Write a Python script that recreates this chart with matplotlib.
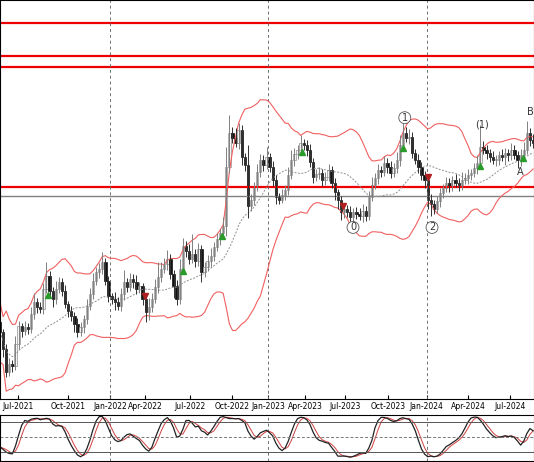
import matplotlib
matplotlib.use('Agg')
import matplotlib.pyplot as plt
import numpy as np
import pandas as pd

# weekly closes (chart price units)
closes = [
    67, 50, 27, 35, 33, 55, 73, 68, 72, 70,
    85, 97, 92, 90, 110, 123, 108, 100, 110, 117,
    108, 95, 88, 83, 75, 67, 72, 80, 93, 105,
    118, 127, 130, 137, 118, 103, 100, 97, 93, 105,
    117, 112, 120, 117, 110, 113, 100, 87, 92, 100,
    112, 122, 130, 135, 140, 125, 113, 100, 130, 153,
    148, 140, 145, 138, 150, 127, 132, 138, 143, 152,
    160, 166, 173, 233, 267, 262, 257, 270, 243, 235,
    193, 200, 213, 228, 240, 235, 243, 233, 220, 203,
    200, 205, 210, 225, 240, 246, 250, 257, 255, 250,
    238, 223, 226, 227, 220, 223, 230, 217, 208, 200,
    187, 190, 187, 182, 187, 185, 183, 188, 183, 203,
    215, 222, 230, 228, 237, 233, 227, 232, 240, 255,
    267, 262, 263, 247, 240, 233, 225, 220, 200, 195,
    190, 198, 207, 212, 217, 214, 220, 217, 215, 220,
    222, 225, 227, 232, 237, 253, 250, 247, 243, 240,
    240, 245, 243, 247, 245, 250, 245, 240, 245, 250,
    267, 260, 257,
]
up_wick = [
    4, 3, 5, 6, 4, 8, 5, 3, 6, 4,
    7, 9, 4, 5, 6, 14, 5, 4, 8, 5,
    4, 6, 3, 5, 4, 6, 5, 4, 7, 6,
    8, 5, 6, 10, 4, 5, 3, 7, 5, 6,
    12, 4, 6, 5, 7, 4, 3, 5, 9, 6,
    8, 15, 7, 6, 9, 5, 4, 6, 10, 8,
    5, 7, 20, 5, 6, 4, 5, 6, 8, 5,
    6, 4, 9, 20, 18, 6, 10, 7, 5, 4,
    20, 6, 5, 8, 6, 5, 10, 4, 6, 5,
    4, 6, 5, 8, 10, 6, 5, 8, 4, 5,
    6, 4, 5, 6, 4, 5, 6, 4, 5, 3,
    4, 5, 4, 6, 4, 5, 6, 7, 5, 6,
    8, 5, 6, 4, 7, 5, 6, 5, 8, 10,
    12, 6, 8, 5, 4, 6, 5, 4, 5, 6,
    4, 6, 5, 4, 6, 5, 4, 6, 5, 8,
    5, 6, 4, 5, 8, 22, 6, 5, 4, 6,
    5, 4, 6, 5, 4, 7, 5, 4, 6, 8,
    12, 5, 6,
]
down_wick = [
    6, 8, 5, 4, 6, 4, 5, 6, 4, 5,
    4, 5, 6, 4, 5, 4, 6, 8, 5, 4,
    5, 4, 6, 5, 8, 5, 4, 6, 5, 4,
    5, 4, 6, 5, 4, 6, 5, 8, 4, 5,
    6, 5, 4, 6, 5, 4, 6, 10, 8, 5,
    4, 6, 5, 4, 6, 5, 12, 6, 5, 4,
    6, 5, 4, 6, 5, 10, 5, 4, 6, 5,
    4, 6, 5, 10, 6, 5, 4, 6, 8, 6,
    12, 5, 6, 4, 5, 6, 4, 5, 6, 8,
    5, 4, 6, 5, 4, 6, 5, 4, 5, 6,
    5, 6, 4, 5, 6, 5, 4, 5, 8, 10,
    8, 6, 5, 4, 8, 5, 4, 6, 5, 4,
    5, 4, 6, 5, 4, 6, 5, 4, 5, 6,
    5, 4, 6, 5, 4, 6, 5, 8, 10, 12,
    5, 4, 6, 5, 4, 6, 5, 4, 6, 5,
    4, 6, 5, 4, 6, 5, 4, 6, 5, 4,
    6, 5, 4, 8, 6, 5, 4, 8, 6, 5,
    4, 6, 5,
]

tick_labels = ['Jul-2021', 'Oct-2021', 'Jan-2022', 'Apr-2022', 'Jul-2022', 'Oct-2022',
               'Jan-2023', 'Apr-2023', 'Jul-2023', 'Oct-2023', 'Jan-2024', 'Apr-2024', 'Jul-2024']
tick_weeks = [5.8, 21.9, 35.5, 46.8, 61.3, 74.8, 86.5, 98.4, 111.3, 125.2, 137.7, 151.0, 164.5]
year_weeks = [35.5, 86.5, 137.7]

levels_red = [377, 344, 333, 213]
level_gray = 204

green_arrows = [15.5, 59, 71.6, 97.4, 130, 155, 168.7]
red_marks = [46.8, 110.6, 138]
wave_labels = [('0', 113.9, 172, True), ('1', 130.6, 282, True), ('2', 139.4, 172, True),
               ('(1)', 155.5, 275, False), ('A', 167.7, 228, False), ('B', 171.0, 288, False)]

c = np.array(closes, float)
o = np.r_[c[0] + 10, c[:-1]]
h = np.maximum(o, c) + np.array(up_wick)
l = np.minimum(o, c) - np.array(down_wick)
x = np.arange(len(c))

s = pd.Series(c)
mid = s.rolling(20, min_periods=1).mean()
sd = s.rolling(20, min_periods=2).std().fillna(15)
upper, lower = mid + 2 * sd, mid - 2 * sd

hh = pd.Series(h).rolling(14, min_periods=1).max()
ll = pd.Series(l).rolling(14, min_periods=1).min()
k = (100 * (s - ll) / (hh - ll)).rolling(3, min_periods=1).mean()
d = k.rolling(3, min_periods=1).mean()

W, H = 534, 462
fig = plt.figure(figsize=(W / 100, H / 100), dpi=100)
ax = fig.add_axes([0, 1 - 399 / H, 1, 399 / H])
ax2 = fig.add_axes([0, 1 / H, 1, 46 / H])

for y in levels_red:
    ax.axhline(y, color='#ee0000', lw=1.6)
ax.axhline(level_gray, color='#808080', lw=1)
for wk in year_weeks:
    ax.axvline(wk, color='#707070', lw=0.7, ls=(0, (3, 3)))
    ax2.axvline(wk, color='#707070', lw=0.7, ls=(0, (3, 3)))

ax.plot(x, upper, color='#f06060', lw=0.8)
ax.plot(x, lower, color='#f06060', lw=0.8)
ax.plot(x, mid, color='#909090', lw=0.7, ls=(0, (2, 1.5)))

for i in range(len(c)):
    bull = c[i] >= o[i]
    ax.vlines(x[i], l[i], h[i], color='#808080' if bull else '#303030', lw=0.7)
    lo_b, hi_b = min(o[i], c[i]), max(o[i], c[i])
    ax.bar(x[i], max(hi_b - lo_b, 0.8), bottom=lo_b, width=0.75,
           color='#f4f4f4' if bull else '#111111', edgecolor='#909090' if bull else '#111111', lw=0.5)

for wk in green_arrows:
    i = int(round(wk))
    ax.plot(wk, l[i] + 2, marker='^', color='#2a9a2a', ms=4)
for wk in red_marks:
    i = int(round(wk))
    ax.plot(wk, h[i] - 2, marker='v', color='#b02020', ms=4)
for txt, wk, y, circ in wave_labels:
    bbox = dict(boxstyle='circle,pad=0.1', fc='white', ec='#555555', lw=0.6) if circ else None
    ax.text(wk, y, txt, ha='center', va='center', fontsize=7, color='#333333', bbox=bbox)

ax.set_xlim(0, 172.3)
ax.set_ylim(0, 400)
ax.set_yticks([])
ax.set_xticks(tick_weeks)
ax.set_xticklabels(tick_labels, fontsize=5.5)
ax.tick_params(axis='x', direction='in', length=3, pad=2)

ax2.plot(x, d, color='#d04040', lw=0.7)
ax2.plot(x, k, color='#222222', lw=0.9)
ax2.axhline(80, color='#555555', lw=0.7)
ax2.axhline(20, color='#555555', lw=0.7)
ax2.axhline(50, color='#777777', lw=0.7, ls=(0, (3, 2)))
ax2.set_xlim(0, 172.3)
ax2.set_ylim(2, 94)
ax2.set_xticks([])
ax2.set_yticks([])

fig.savefig('out.png', dpi=100)
